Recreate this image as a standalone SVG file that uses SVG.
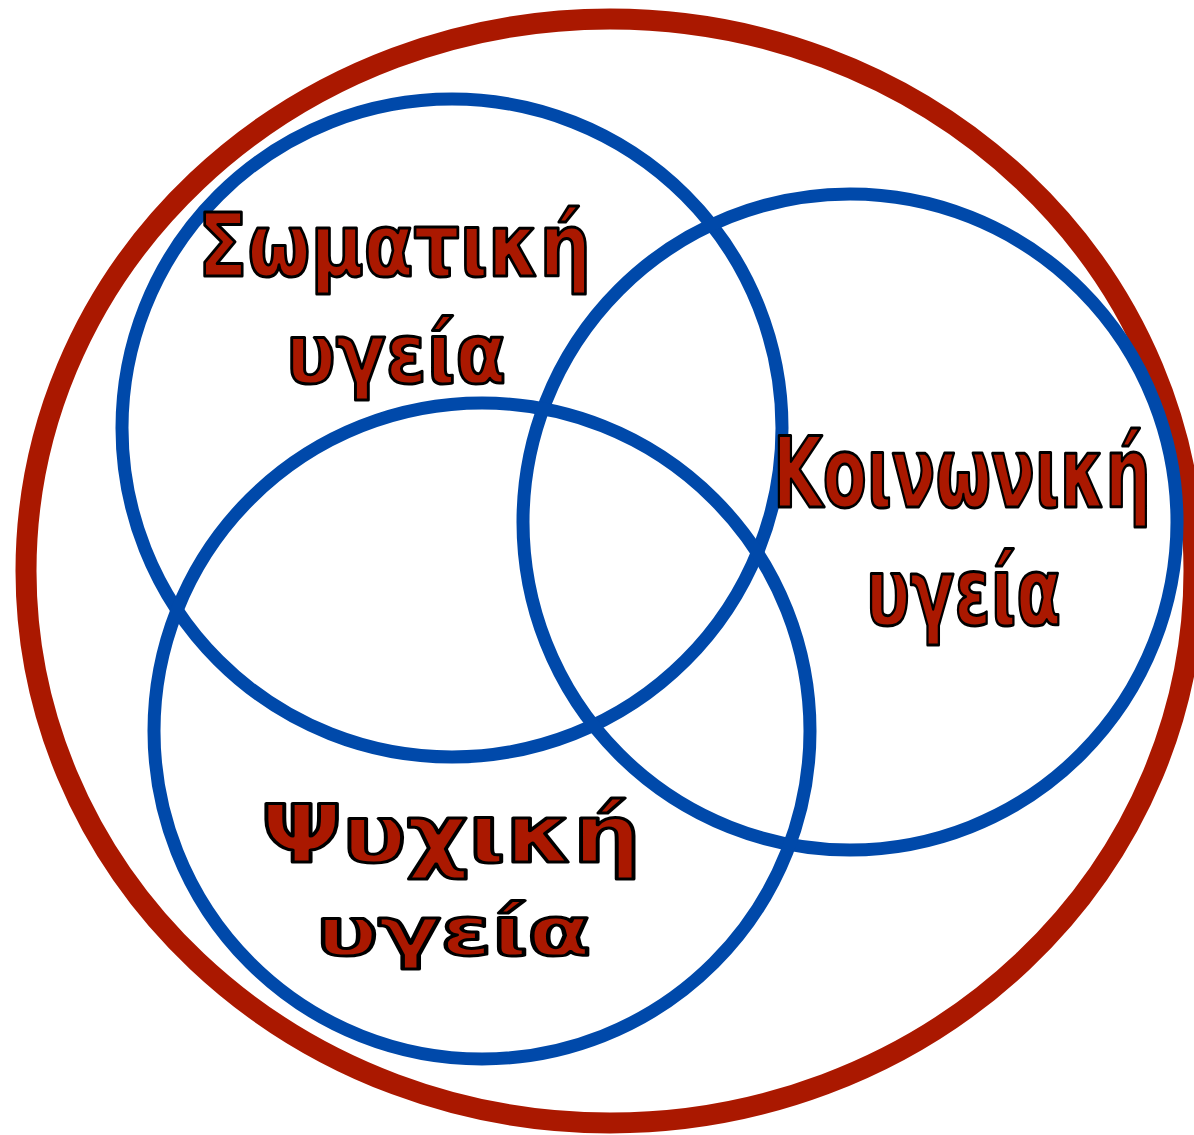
<svg xmlns="http://www.w3.org/2000/svg" width="1194" height="1135" viewBox="0 0 1194 1135">
  <style>
    .bg { fill: #ffffff; }
    .outer { fill: none; stroke: #AA1800; stroke-width: 21; }
    .ring { fill: none; stroke: #0049AA; stroke-width: 13; }
    .lbl { font-family: "DejaVu Sans Condensed", "DejaVu Sans", "Liberation Sans", sans-serif; font-stretch: condensed; font-weight: bold; fill: #AA1800; stroke: #000000; stroke-width: 3; stroke-linejoin: round; }
  </style>
  <rect class="bg" x="0" y="0" width="1194" height="1135"/>
  <g id="health">
    <ellipse class="outer" cx="610" cy="571" rx="584" ry="552"/>
  </g>
  <g id="connectors"></g>
  <g id="physical">
    <ellipse class="ring" cx="452" cy="428" rx="330" ry="329"/>
  </g>
  <g id="social">
    <ellipse class="ring" cx="850" cy="522" rx="327" ry="328"/>
  </g>
  <g id="mental">
    <ellipse class="ring" cx="482" cy="731" rx="328" ry="328"/>
  </g>
  <g id="physical-label">
    <text class="lbl" x="198" y="276" font-size="88" textLength="393" lengthAdjust="spacingAndGlyphs">Σωματική</text>
    <text class="lbl" x="286" y="383" font-size="83" textLength="220" lengthAdjust="spacingAndGlyphs">υγεία</text>
  </g>
  <g id="social-label">
    <text class="lbl" x="773" y="507" font-size="97" textLength="378" lengthAdjust="spacingAndGlyphs">Κοινωνική</text>
    <text class="lbl" x="866" y="625" font-size="95" textLength="195" lengthAdjust="spacingAndGlyphs">υγεία</text>
  </g>
  <g id="mental-label">
    <text class="lbl" x="261" y="862" font-size="80" textLength="380" lengthAdjust="spacingAndGlyphs">Ψυχική</text>
    <text class="lbl" x="316" y="955" font-size="67" textLength="275" lengthAdjust="spacingAndGlyphs">υγεία</text>
  </g>
</svg>
